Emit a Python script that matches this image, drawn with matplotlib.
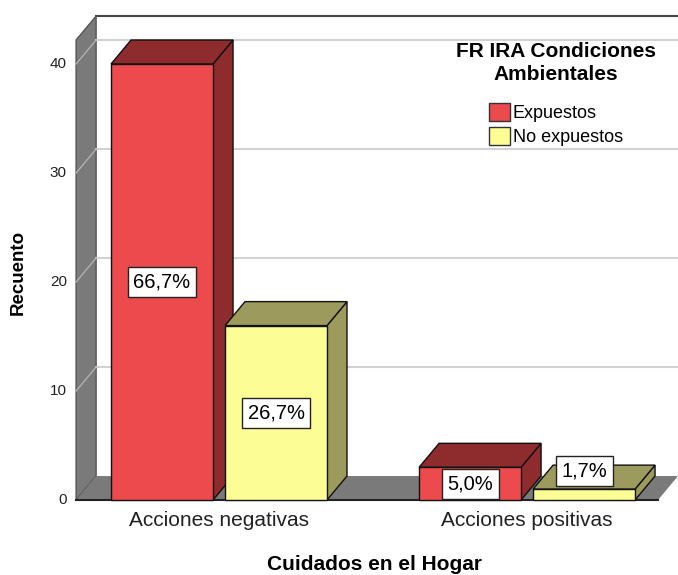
import matplotlib.pyplot as plt
from matplotlib.patches import Polygon, Rectangle, Patch

plt.rcParams['font.family'] = ['Liberation Sans', 'DejaVu Sans']

# data
categories = ['Acciones negativas', 'Acciones positivas']
series = ['Expuestos', 'No expuestos']
counts = {'Expuestos': [40, 3], 'No expuestos': [16, 1]}
pct_labels = {'Expuestos': ['66,7%', '5,0%'], 'No expuestos': ['26,7%', '1,7%']}
yticks = [0, 10, 20, 30, 40]

FRONT = {'Expuestos': '#ec4a4d', 'No expuestos': '#fdfd96'}
DARK = {'Expuestos': '#8e2b2d', 'No expuestos': '#9c9a5c'}
GRAY = '#7a7a7a'
GRID = '#d2d2d2'

W = 0.331      # bar width (category units)
GAP = 0.039
DX, DY = 0.065, 2.2   # depth offset
XL, XR = -0.464, 1.425
YTOP = 42.2

fig = plt.figure(figsize=(6.78, 5.75), dpi=100)
ax = fig.add_axes([0, 0, 1, 1])
ax.set_xlim(-0.711, 1.490)
ax.set_ylim(-6.88, 45.87)
ax.axis('off')

# back wall top edge
ax.plot([XL + DX, XR + DX + 0.2], [YTOP + DY, YTOP + DY], color='#444444', lw=1.5, zorder=1)
# left wall
ax.add_patch(Polygon([(XL, 0), (XL + DX, DY), (XL + DX, YTOP + DY), (XL, YTOP)],
                     closed=True, fc=GRAY, ec='#555555', lw=1, zorder=1))
# floor
ax.add_patch(Polygon([(XL, 0), (XR, 0), (XR + DX, DY), (XL + DX, DY)],
                     closed=True, fc=GRAY, ec='none', zorder=1))
ax.plot([XL, XR], [0, 0], color='#222222', lw=1.5, zorder=2)

# gridlines
for v in yticks[1:]:
    ax.plot([XL, XL + DX], [v, v + DY], color='#b0b0b0', lw=1, zorder=1.5)
    ax.plot([XL + DX, XR + DX + 0.2], [v + DY, v + DY], color=GRID, lw=1.5, zorder=1)
for v in yticks:
    ax.text(XL - 0.03, v, str(v), ha='right', va='center', fontsize=11, color='#222222')


def bar3d(x0, h, s):
    ax.add_patch(Polygon([(x0 + W, 0), (x0 + W + DX, DY), (x0 + W + DX, h + DY), (x0 + W, h)],
                         closed=True, fc=DARK[s], ec='#111111', lw=1, zorder=3))
    ax.add_patch(Polygon([(x0, h), (x0 + W, h), (x0 + W + DX, h + DY), (x0 + DX, h + DY)],
                         closed=True, fc=DARK[s], ec='#111111', lw=1, zorder=3))
    ax.add_patch(Rectangle((x0, 0), W, h, fc=FRONT[s], ec='#111111', lw=1, zorder=4))


for ci, cat in enumerate(categories):
    for si, s in enumerate(series):
        x0 = ci - GAP / 2 - W if si == 0 else ci + GAP / 2
        h = counts[s][ci]
        bar3d(x0, h, s)
        ly = h / 2 if h >= 2 else h + DY * 0.75
        ax.text(x0 + W / 2, ly, pct_labels[s][ci], ha='center', va='center', fontsize=14.5,
                zorder=6, bbox=dict(boxstyle='square,pad=0.28', fc='white', ec='#222222', lw=1))
    ax.text(ci, -1.9, cat, ha='center', va='center', fontsize=15, color='#222222')

ax.text(0.505, -5.95, 'Cuidados en el Hogar', ha='center', va='center', fontsize=15,
        fontweight='bold')
ax.text(-0.653, 20.9, 'Recuento', ha='center', va='center', rotation=90, fontsize=13.5,
        fontweight='bold')

# legend
fig.text(556 / 678, 1 - 63 / 575, 'FR IRA Condiciones\nAmbientales', ha='center', va='center',
         multialignment='center', fontsize=15, fontweight='bold', linespacing=1.25)
handles = [Patch(fc=FRONT[s], ec='#333333', label=s) for s in series]
ax.legend(handles=handles, loc='upper center', bbox_to_anchor=(556 / 678, 1 - 94 / 575),
          frameon=False, fontsize=13, handlelength=1.15, handleheight=1.15, handletextpad=0.15,
          labelspacing=0.25, borderpad=0)

fig.savefig('out.png', dpi=100)
